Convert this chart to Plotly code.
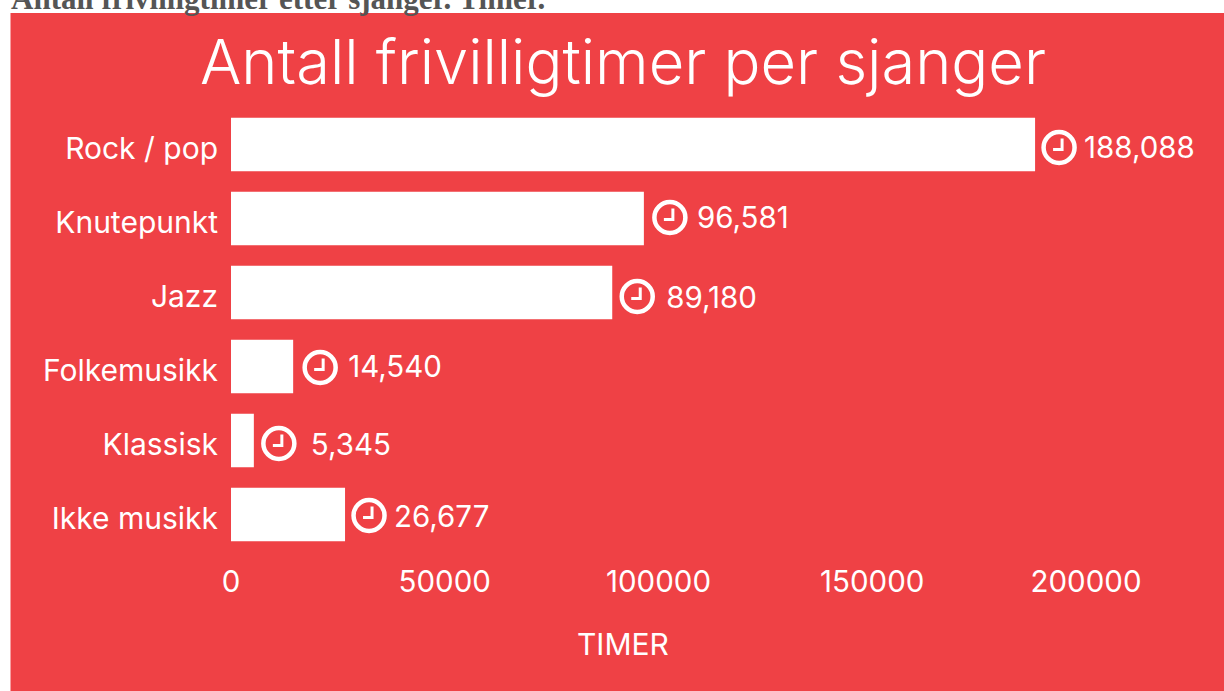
import plotly.graph_objects as go

categories = ["Rock / pop", "Knutepunkt", "Jazz", "Folkemusikk", "Klassisk", "Ikke musikk"]
hours = [188088, 96581, 89180, 14540, 5345, 26677]
value_labels = ["188,088", "96,581", "89,180", "14,540", "5,345", "26,677"]
x_ticks = [0, 50000, 100000, 150000, 200000]

W, H = 1224, 691
RED = "#ef4145"
FONT = "Inter"
PX_X = 200000 / 855
PX_Y = 1 / 74
L, T, B = 231, 107.5, 551.5

# layout nudges per row, in pixels
icon_dx = [24, 26, 25, 27, 25, 24]
icon_dy = [3, -1, 4, 1, 3, 1]
text_dx = [49, 53, 54, 55, 57, 49]
text_dy = [6, 2, 8, 3, 7, 5]

ys = list(range(len(categories)))
fig = go.Figure()
fig.add_bar(x=hours, y=ys, orientation="h", marker=dict(color="white", line_width=0), width=0.72, showlegend=False)

icon_x = [v + d * PX_X for v, d in zip(hours, icon_dx)]
icon_y = [y + d * PX_Y for y, d in zip(ys, icon_dy)]
fig.add_scatter(x=icon_x, y=icon_y, mode="markers", showlegend=False,
                marker=dict(symbol="circle-open", size=31, color="white", line=dict(color="white", width=4.5)))
hx, hy = [], []
for x, y in zip(icon_x, icon_y):
    hx += [x + 3 * PX_X, x + 3 * PX_X, x - 6 * PX_X, None]
    hy += [y - 9 * PX_Y, y + 2 * PX_Y, y + 2 * PX_Y, None]
fig.add_scatter(x=hx, y=hy, mode="lines", showlegend=False, line=dict(color="white", width=3))
fig.add_scatter(x=[v + d * PX_X for v, d in zip(hours, text_dx)],
                y=[y + d * PX_Y for y, d in zip(ys, text_dy)],
                mode="text", text=value_labels, textposition="middle right", showlegend=False,
                textfont=dict(family=FONT, size=29.5, color="white"))

fig.add_shape(type="rect", xref="paper", yref="paper", x0=10.5 / W, x1=1, y0=0, y1=1 - 13 / H,
              fillcolor=RED, line_width=0, layer="below")
fig.add_annotation(text="Antall frivilligtimer per sjanger", xref="paper", yref="paper",
                   x=623 / W, y=1 - 62 / H, showarrow=False, xanchor="center", yanchor="middle",
                   font=dict(family=FONT, size=61.4, color="white", weight=300))
fig.add_annotation(text="TIMER", xref="paper", yref="paper", x=623 / W, y=1 - 644 / H,
                   showarrow=False, xanchor="center", yanchor="middle",
                   font=dict(family=FONT, size=30, color="white"))
fig.add_annotation(text="<b>Antall frivilligtimer etter sjanger. Timer.</b>", xref="paper", yref="paper",
                   x=9 / W, y=1 + 1 / H, showarrow=False, xanchor="left", yanchor="middle",
                   font=dict(family="Liberation Serif", size=31, color="#555555"))

fig.update_layout(
    width=W, height=H, margin=dict(l=0, r=0, t=0, b=0), paper_bgcolor="white", plot_bgcolor="rgba(0,0,0,0)",
    xaxis=dict(domain=[L / W, 1], range=[0, (W - L) * PX_X], tickvals=x_ticks, ticktext=[str(t) for t in x_ticks],
               showgrid=False, zeroline=False, showline=False, ticks="", ticklabelstandoff=10, automargin=False,
               tickfont=dict(family=FONT, size=29.5, color="white")),
    yaxis=dict(domain=[1 - B / H, 1 - T / H], range=[5.5, -0.5], tickvals=ys, ticktext=categories,
               showgrid=False, zeroline=False, showline=False, ticks="", ticklabelstandoff=12, ticklabelshift=-4,
               automargin=False, tickfont=dict(family=FONT, size=30, color="white")),
)
fig.write_html("out.html", config={"displayModeBar": False},
               post_script="document.body.style.margin='0';document.body.style.overflow='hidden';")
